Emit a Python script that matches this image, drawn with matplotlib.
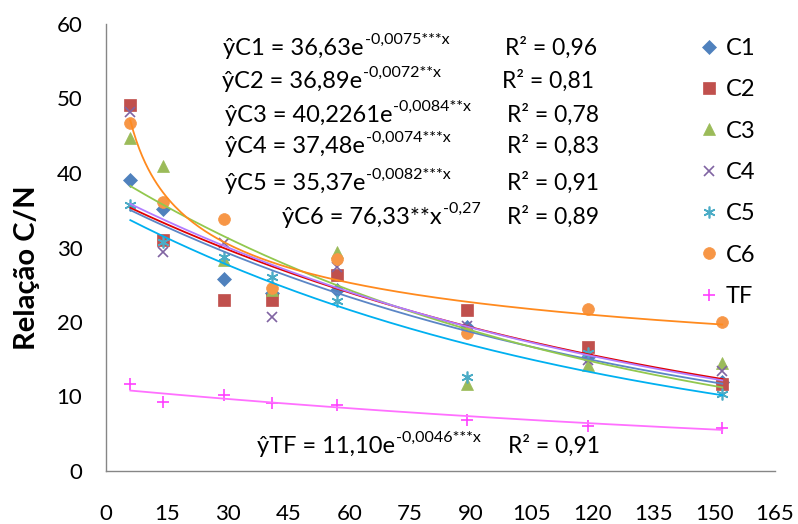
import numpy as np
import matplotlib
matplotlib.use("Agg")
from matplotlib import pyplot as plt

plt.rcParams['font.family'] = ['Lato', 'DejaVu Sans']

# sampling days
days = [6, 14, 29, 41, 57, 89, 119, 152]

# C/N ratio
c1 = [39.0, 35.2, 25.8, 23.9, 24.3, 19.3, 15.3, 11.9]
c2 = [49.1, 31.0, 23.0, 22.9, 26.3, 21.6, 16.7, 11.7]
c3 = [44.7, 40.9, 28.3, 24.3, 29.4, 11.7, 14.2, 14.5]
c4 = [48.2, 29.4, 30.6, 20.7, 27.4, 19.5, 14.9, 13.4]
c5 = [35.7, 30.7, 28.7, 26.1, 22.8, 12.6, 15.8, 10.4]
c6 = [46.7, 36.1, 33.8, 24.5, 28.5, 18.5, 21.7, 20.0]
tf = [11.7, 9.2, 10.2, 9.1, 8.8, 6.8, 6.1, 5.8]

names = ['C1', 'C2', 'C3', 'C4', 'C5', 'C6', 'TF']
series = [c1, c2, c3, c4, c5, c6, tf]

# fitted models shown on the chart (a, b)
fit_kind = ['exp', 'exp', 'exp', 'exp', 'exp', 'pow', 'exp']
fit_a = [36.63, 36.89, 40.2261, 37.48, 35.37, 76.33, 11.10]
fit_b = [-0.0075, -0.0072, -0.0084, -0.0074, -0.0082, -0.27, -0.0046]

eq_main = ['ŷC1 = 36,63e', 'ŷC2 = 36,89e', 'ŷC3 = 40,2261e', 'ŷC4 = 37,48e',
           'ŷC5 = 35,37e', 'ŷC6 = 76,33**x', 'ŷTF = 11,10e']
eq_sup = ['-0,0075***x', '-0,0072**x', '-0,0084**x', '-0,0074***x',
          '-0,0082***x', '-0,27', '-0,0046***x']
r2 = ['0,96', '0,81', '0,78', '0,83', '0,91', '0,89', '0,91']

mk_color = ['#4F81BD', '#C0504D', '#9BBB59', '#8064A2', '#4BACC6', '#F79646', '#FF40FF']
line_color = ['#5B86C6', '#E00000', '#92C84E', '#B27CFF', '#00B0F0', '#FF8A1E', '#FF70FF']
markers = ['D', 's', '^', 'x', (6, 2, 0), 'o', '+']
msizes = [7, 8, 8.5, 7.5, 8.5, 8.5, 8.5]

W, H = 798, 524
fig = plt.figure(figsize=(W / 100, H / 100), dpi=100)
ax = fig.add_axes([106 / W, 1 - 471 / H, (775 - 106) / W, (471 - 24) / H])

for i in range(len(series)):
    ax.plot(days, series[i], linestyle='none', marker=markers[i], color=mk_color[i],
            markersize=msizes[i], markeredgewidth=1.2 if i in (3, 4, 6) else 0.5,
            label=names[i], zorder=3)

xs = np.linspace(days[0], days[-1], 200)
for i in range(len(series)):
    if fit_kind[i] == 'exp':
        ys = fit_a[i] * np.exp(fit_b[i] * xs)
    else:
        ys = fit_a[i] * xs ** fit_b[i]
    ax.plot(xs, ys, color=line_color[i], linewidth=1.3, zorder=4)

ax.set_xlim(0, 165)
ax.set_ylim(0, 60)
ax.set_xticks(range(0, 166, 15))
ax.set_yticks(range(0, 61, 10))
ax.tick_params(axis='both', length=0, labelsize=16)
ax.tick_params(axis='x', pad=24)
ax.tick_params(axis='y', pad=17)
for s in ['top', 'right']:
    ax.spines[s].set_visible(False)
for s in ['left', 'bottom']:
    ax.spines[s].set_color('#868686')
    ax.spines[s].set_linewidth(1)

fig.text(27 / W, 1 - 268 / H, 'Relação C/N', rotation=90, fontsize=21,
         fontweight='bold', ha='center', va='center')

ax.legend(loc='upper left', bbox_to_anchor=(700 / W, 1 - 38 / H),
          bbox_transform=fig.transFigure, frameon=False, fontsize=17,
          handlelength=0.8, handletextpad=0.3, labelspacing=0.86,
          borderaxespad=0, borderpad=0)

# equations
eq_x = [223, 222, 225, 225, 225, 282, 257]
eq_y = [55, 88, 122, 153, 190, 224, 453]
r2_x = [505, 502, 507, 507, 507, 507, 508]

fig.canvas.draw()
rend = fig.canvas.get_renderer()
for i in range(len(eq_main)):
    t = fig.text(eq_x[i] / W, 1 - eq_y[i] / H, eq_main[i], fontsize=17, va='baseline')
    bb = t.get_window_extent(rend)
    fig.text((bb.x1 + 1) / W, 1 - (eq_y[i] - 11) / H, eq_sup[i], fontsize=11.5, va='baseline')
    fig.text(r2_x[i] / W, 1 - eq_y[i] / H, 'R² = ' + r2[i], fontsize=16.5, va='baseline')

fig.savefig('out.png', dpi=100)
